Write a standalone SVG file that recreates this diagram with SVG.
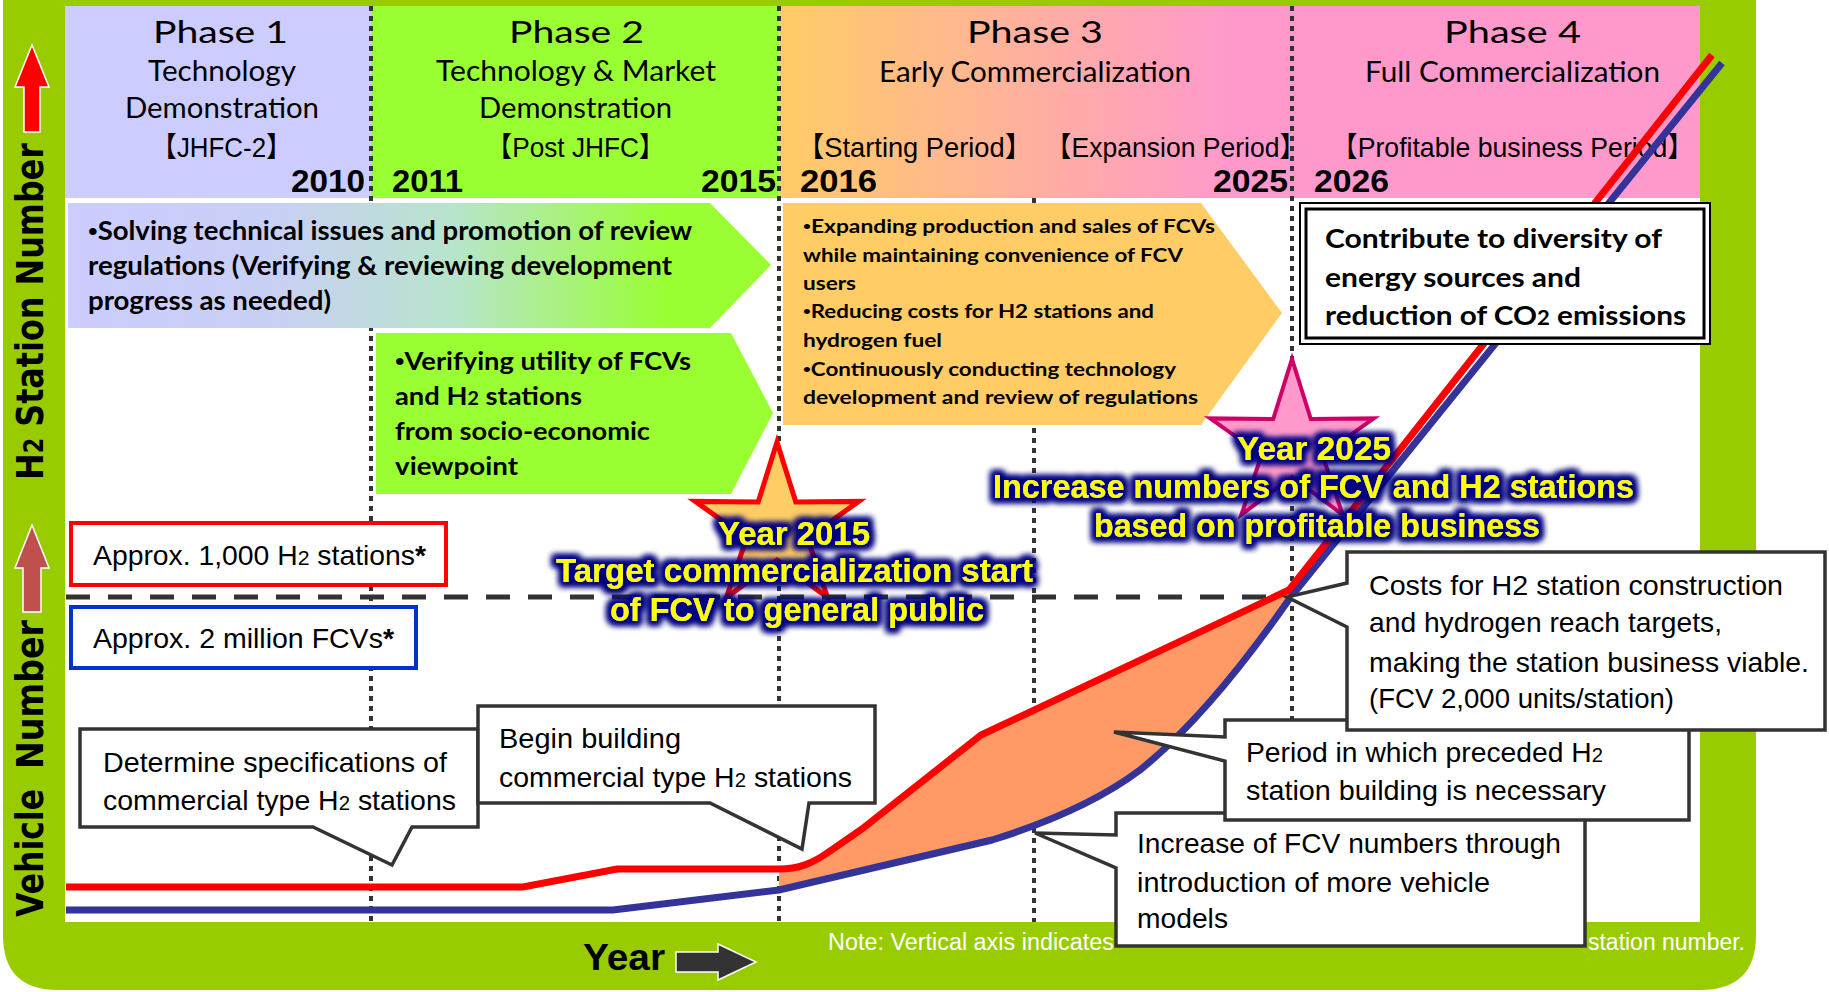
<svg xmlns="http://www.w3.org/2000/svg" width="1829" height="992" viewBox="0 0 1829 992">
<style>
.hdr{font-family:Lato,'Noto Sans',sans-serif;font-size:29px;fill:#000}
.ph{font-size:30px}
.br{font-family:'Liberation Sans','Noto Sans CJK JP',sans-serif;font-size:28px;fill:#000}
.yr{font-family:'Liberation Sans',Arial,sans-serif;font-weight:bold;font-size:31px;fill:#000}
.ab{font-family:Lato,'Noto Sans',sans-serif;font-weight:bold;fill:#000}
.bu{font-family:'Liberation Sans',Arial,sans-serif;font-weight:normal}
.nar{font-family:'Liberation Sans',Arial,sans-serif;font-size:28px;fill:#000}
.glow{font-family:'Liberation Sans',Arial,sans-serif;font-weight:bold;font-size:33px;fill:#FFFF00;filter:url(#glow)}
.co{fill:#fff;stroke:#333;stroke-width:3.5;stroke-linejoin:miter}
.dot{stroke:#333;stroke-width:4;stroke-dasharray:5 5;fill:none}
.axis{font-family:'DejaVu Sans',Verdana,sans-serif;font-weight:bold;font-size:37px;fill:#000}
</style>
<defs>
<linearGradient id="g3" x1="779" y1="0" x2="1230" y2="0" gradientUnits="userSpaceOnUse">
<stop offset="0" stop-color="#FFCC66"/><stop offset="1" stop-color="#FF99CC"/>
</linearGradient>
<linearGradient id="gTop" x1="68" y1="0" x2="771" y2="0" gradientUnits="userSpaceOnUse">
<stop offset="0" stop-color="#CCCCFF"/><stop offset="0.3" stop-color="#C8D0F4"/><stop offset="0.55" stop-color="#B8E4CC"/><stop offset="0.85" stop-color="#99FF33"/><stop offset="1" stop-color="#99FF33"/>
</linearGradient>
<filter id="glow" x="-10%" y="-40%" width="120%" height="180%">
<feMorphology in="SourceAlpha" operator="dilate" radius="4" result="d"/>
<feGaussianBlur in="d" stdDeviation="3" result="b"/>
<feFlood flood-color="#000080"/>
<feComposite in2="b" operator="in" result="g"/>
<feMerge><feMergeNode in="g"/><feMergeNode in="g"/><feMergeNode in="SourceGraphic"/></feMerge>
</filter>
<polygon id="star" points="0,-86 18.8,-25.9 81.8,-26.6 30.4,9.9 50.6,69.6 0,32 -50.6,69.6 -30.4,9.9 -81.8,-26.6 -18.8,-25.9"/>
</defs>

<rect width="1829" height="992" fill="#fff"/>
<path d="M3,0 H1756 V935 Q1756,990 1700,990 H58 Q3,990 3,935 Z" fill="#99CC00"/>
<rect x="65" y="6" width="1635" height="916" fill="#fff"/>

<g id="phase1">
<rect x="65" y="6" width="306" height="192" fill="#CCCCFF"/>
<text class="hdr ph" x="153" y="43" textLength="135" lengthAdjust="spacingAndGlyphs">Phase 1</text>
<text class="hdr" x="148" y="81" textLength="148" lengthAdjust="spacingAndGlyphs">Technology</text>
<text class="hdr" x="125" y="118" textLength="194" lengthAdjust="spacingAndGlyphs">Demonstration</text>
<text class="br" x="151" y="157" textLength="141" lengthAdjust="spacingAndGlyphs">【JHFC-2】</text>
<text class="yr" x="291" y="192" textLength="74" lengthAdjust="spacingAndGlyphs">2010</text>
</g>
<g id="phase2">
<rect x="371" y="6" width="408" height="192" fill="#99FF33"/>
<text class="hdr ph" x="509" y="43" textLength="135" lengthAdjust="spacingAndGlyphs">Phase 2</text>
<text class="hdr" x="436" y="81" textLength="280" lengthAdjust="spacingAndGlyphs">Technology &amp; Market</text>
<text class="hdr" x="479" y="118" textLength="193" lengthAdjust="spacingAndGlyphs">Demonstration</text>
<text class="br" x="486" y="157" textLength="179" lengthAdjust="spacingAndGlyphs">【Post JHFC】</text>
<text class="yr" x="392" y="192" textLength="71" lengthAdjust="spacingAndGlyphs">2011</text>
<text class="yr" x="701" y="192" textLength="75" lengthAdjust="spacingAndGlyphs">2015</text>
</g>
<g id="phase3">
<rect x="779" y="6" width="513" height="192" fill="url(#g3)"/>
<text class="hdr ph" x="967" y="43" textLength="136" lengthAdjust="spacingAndGlyphs">Phase 3</text>
<text class="hdr" x="879" y="82" textLength="312" lengthAdjust="spacingAndGlyphs">Early Commercialization</text>
<text class="br" x="797" y="157" textLength="235" lengthAdjust="spacingAndGlyphs">【Starting Period】</text>
<text class="br" x="1045" y="157" textLength="261" lengthAdjust="spacingAndGlyphs">【Expansion Period】</text>
<text class="yr" x="800" y="192" textLength="77" lengthAdjust="spacingAndGlyphs">2016</text>
<text class="yr" x="1213" y="192" textLength="75" lengthAdjust="spacingAndGlyphs">2025</text>
</g>
<g id="phase4">
<rect x="1292" y="6" width="408" height="192" fill="#FF99CC"/>
<text class="hdr ph" x="1444" y="43" textLength="137" lengthAdjust="spacingAndGlyphs">Phase 4</text>
<text class="hdr" x="1365" y="82" textLength="295" lengthAdjust="spacingAndGlyphs">Full Commercialization</text>
<text class="br" x="1331" y="157" textLength="363" lengthAdjust="spacingAndGlyphs">【Profitable business Period】</text>
<text class="yr" x="1314" y="192" textLength="75" lengthAdjust="spacingAndGlyphs">2026</text>
</g>

<g id="gridlines">
<line class="dot" x1="371" y1="6" x2="371" y2="922"/>
<line class="dot" x1="779" y1="6" x2="779" y2="922"/>
<line class="dot" x1="1034" y1="198" x2="1034" y2="922"/>
<line class="dot" x1="1292" y1="6" x2="1292" y2="922"/>
</g>

<g id="arrow-issues">
<path d="M68,203 H710 L771,265 L710,328 H68 Z" fill="url(#gTop)"/>
<text class="ab" font-size="26" x="88" y="240" textLength="604" lengthAdjust="spacingAndGlyphs"><tspan class="bu">•</tspan>Solving technical issues and promotion of review</text>
<text class="ab" font-size="26" x="88" y="275" textLength="584" lengthAdjust="spacingAndGlyphs">regulations (Verifying &amp; reviewing development</text>
<text class="ab" font-size="26" x="88" y="310" textLength="243" lengthAdjust="spacingAndGlyphs">progress as needed)</text>
</g>
<g id="arrow-verify">
<path d="M376,333 H731 L773,413 L731,494 H376 Z" fill="#99FF33"/>
<text class="ab" font-size="25" x="395" y="370" textLength="296" lengthAdjust="spacingAndGlyphs"><tspan class="bu">•</tspan>Verifying utility of FCVs</text>
<text class="ab" font-size="25" x="395" y="405" textLength="187" lengthAdjust="spacingAndGlyphs">and H<tspan font-size="18">2</tspan> stations</text>
<text class="ab" font-size="25" x="395" y="440" textLength="255" lengthAdjust="spacingAndGlyphs">from socio-economic</text>
<text class="ab" font-size="25" x="395" y="475" textLength="123" lengthAdjust="spacingAndGlyphs">viewpoint</text>
</g>
<g id="arrow-expand">
<path d="M783,203 H1201 L1282,313 L1201,425 H783 Z" fill="#FFCC66"/>
<text class="ab" font-size="19" x="803" y="233" textLength="412" lengthAdjust="spacingAndGlyphs"><tspan class="bu">•</tspan>Expanding  production and sales of FCVs</text>
<text class="ab" font-size="19" x="803" y="262" textLength="380" lengthAdjust="spacingAndGlyphs">while maintaining convenience of FCV</text>
<text class="ab" font-size="19" x="803" y="290" textLength="53" lengthAdjust="spacingAndGlyphs">users</text>
<text class="ab" font-size="19" x="803" y="318" textLength="351" lengthAdjust="spacingAndGlyphs"><tspan class="bu">•</tspan>Reducing costs for H2 stations and</text>
<text class="ab" font-size="19" x="803" y="347" textLength="139" lengthAdjust="spacingAndGlyphs">hydrogen fuel</text>
<text class="ab" font-size="19" x="803" y="376" textLength="373" lengthAdjust="spacingAndGlyphs"><tspan class="bu">•</tspan>Continuously conducting technology</text>
<text class="ab" font-size="19" x="803" y="404" textLength="395" lengthAdjust="spacingAndGlyphs">development and review of regulations</text>
</g>

<g id="box-stations">
<rect x="71" y="523" width="375" height="62" fill="#fff" stroke="#FF0000" stroke-width="4"/>
<text class="nar" font-size="29" x="93" y="565" textLength="333" lengthAdjust="spacingAndGlyphs">Approx. 1,000 H<tspan font-size="21">2</tspan> stations<tspan font-weight="bold">*</tspan></text>
</g>
<g id="box-fcv">
<rect x="71" y="607" width="345" height="61" fill="#fff" stroke="#0033CC" stroke-width="4"/>
<text class="nar" font-size="29" x="93" y="648" textLength="301" lengthAdjust="spacingAndGlyphs">Approx. 2 million FCVs<tspan font-weight="bold">*</tspan></text>
</g>

<g id="stars">
<use href="#star" transform="translate(777,528)" fill="#FFCC66" stroke="#FF0000" stroke-width="5"/>
<use href="#star" transform="translate(1292,445)" fill="#FF99CC" stroke="#CC0066" stroke-width="4"/>
</g>

<g id="connectors">
<line x1="66" y1="597" x2="1289" y2="597" stroke="#333" stroke-width="5" stroke-dasharray="24 18"/>
<path d="M779,869 C798,869 812,864 830,851 L862,829 L981,735 L1289,590 L1290,598 C1240,670 1190,730 1140,770 C1100,800 1050,822 992,840 L779,890 Z" fill="#FF9966"/>
<path d="M66,910 L613,910 L779,890 L992,840 C1050,822 1100,800 1140,770 C1190,730 1240,670 1290,598 L1722,63" fill="none" stroke="#333399" stroke-width="7"/>
<path d="M66,887 L523,887 L617,869 L779,869 C798,869 812,864 830,851 L862,829 L981,735 L1289,590 L1712,55" fill="none" stroke="#FF0000" stroke-width="7"/>
</g>

<g id="box-contribute">
<rect x="1300" y="203" width="410" height="141" fill="#fff" stroke="#000" stroke-width="2"/>
<rect x="1306" y="209" width="398" height="129" fill="none" stroke="#000" stroke-width="3"/>
<text class="ab" font-size="27" x="1325" y="248" textLength="337" lengthAdjust="spacingAndGlyphs">Contribute to diversity of</text>
<text class="ab" font-size="27" x="1325" y="287" textLength="256" lengthAdjust="spacingAndGlyphs">energy sources and</text>
<text class="ab" font-size="27" x="1325" y="325" textLength="361" lengthAdjust="spacingAndGlyphs">reduction of CO<tspan font-size="20">2</tspan> emissions</text>
</g>

<g id="label-2015">
<text class="glow" x="718" y="545" textLength="152" lengthAdjust="spacingAndGlyphs">Year 2015</text>
<text class="glow" x="556" y="582" textLength="477" lengthAdjust="spacingAndGlyphs">Target commercialization start</text>
<text class="glow" x="610" y="621" textLength="374" lengthAdjust="spacingAndGlyphs">of FCV to general public</text>
</g>
<g id="label-2025">
<text class="glow" x="1237" y="460" textLength="154" lengthAdjust="spacingAndGlyphs">Year 2025</text>
<text class="glow" x="993" y="498" textLength="641" lengthAdjust="spacingAndGlyphs">Increase numbers of FCV and H2 stations</text>
<text class="glow" x="1094" y="537" textLength="446" lengthAdjust="spacingAndGlyphs">based on profitable business</text>
</g>

<g id="callout-specs">
<path class="co" d="M80,729 H478 V827 H412 L392,865 L313,827 H80 Z"/>
<text class="nar" x="103" y="772" textLength="344" lengthAdjust="spacingAndGlyphs">Determine specifications of</text>
<text class="nar" x="103" y="810" textLength="353" lengthAdjust="spacingAndGlyphs">commercial type H<tspan font-size="20">2</tspan> stations</text>
</g>
<g id="callout-begin">
<path class="co" d="M478,706 H875 V803 H809 L802,849 L710,803 H478 Z"/>
<text class="nar" x="499" y="748" textLength="182" lengthAdjust="spacingAndGlyphs">Begin building</text>
<text class="nar" x="499" y="787" textLength="353" lengthAdjust="spacingAndGlyphs">commercial type H<tspan font-size="20">2</tspan> stations</text>
</g>
<g id="callout-increase">
<path class="co" d="M1116,813 H1585 V946 H1116 V868 L1035,833 L1116,835 Z"/>
<text class="nar" x="1137" y="853" textLength="424" lengthAdjust="spacingAndGlyphs">Increase of FCV numbers through</text>
<text class="nar" x="1137" y="892" textLength="353" lengthAdjust="spacingAndGlyphs">introduction of more vehicle</text>
<text class="nar" x="1137" y="928" textLength="91" lengthAdjust="spacingAndGlyphs">models</text>
</g>
<g id="callout-period">
<path class="co" d="M1225,720 H1689 V820 H1225 V761 L1114,732 L1225,737 Z"/>
<text class="nar" x="1246" y="762" textLength="357" lengthAdjust="spacingAndGlyphs">Period in which preceded H<tspan font-size="20">2</tspan></text>
<text class="nar" x="1246" y="800" textLength="360" lengthAdjust="spacingAndGlyphs">station building is necessary</text>
</g>
<g id="callout-costs">
<path class="co" d="M1347,552 H1825 V730 H1347 V627 L1287,597 L1347,583 Z"/>
<text class="nar" x="1369" y="595" textLength="414" lengthAdjust="spacingAndGlyphs">Costs for H2 station construction</text>
<text class="nar" x="1369" y="632" textLength="353" lengthAdjust="spacingAndGlyphs">and hydrogen reach targets,</text>
<text class="nar" x="1369" y="672" textLength="440" lengthAdjust="spacingAndGlyphs">making the station business viable.</text>
<text class="nar" x="1369" y="708" textLength="305" lengthAdjust="spacingAndGlyphs">(FCV 2,000 units/station)</text>
</g>

<g id="axis-y">
<path d="M32,45 L49,87 L40,87 L40,132 L24,132 L24,87 L15,87 Z" fill="#FF0000" stroke="#fff" stroke-width="1.5"/>
<text class="axis" transform="translate(43,480) rotate(-90)" textLength="337" lengthAdjust="spacingAndGlyphs">H<tspan font-size="26">2</tspan> Station Number</text>
<path d="M32,525 L49,568 L41,568 L41,612 L23,612 L23,568 L15,568 Z" fill="#C0504D" stroke="#fff" stroke-width="1.5"/>
<text class="axis" transform="translate(43,917) rotate(-90)"><tspan x="0" textLength="128" lengthAdjust="spacingAndGlyphs">Vehicle</tspan><tspan x="148" textLength="149" lengthAdjust="spacingAndGlyphs">Number</tspan></text>
</g>
<g id="axis-x">
<text font-family="'Liberation Sans',Arial,sans-serif" font-weight="bold" font-size="36" x="583" y="970" textLength="82" lengthAdjust="spacingAndGlyphs">Year</text>
<path d="M676,952 H718 V944 L756,962 L718,980 V972 H676 Z" fill="#333" stroke="#fff" stroke-width="1.5"/>
</g>
<g id="note">
<text font-family="'Liberation Sans',Arial,sans-serif" font-size="23" fill="#fff" x="828" y="950" textLength="286" lengthAdjust="spacingAndGlyphs">Note: Vertical axis indicates</text>
<text font-family="'Liberation Sans',Arial,sans-serif" font-size="23" fill="#fff" x="1588" y="950" textLength="157" lengthAdjust="spacingAndGlyphs">station number.</text>
</g>
</svg>
